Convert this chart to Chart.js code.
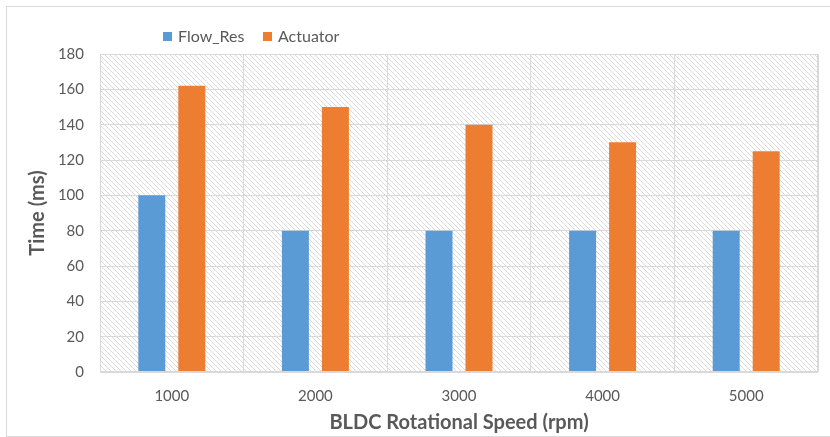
<!DOCTYPE html>
<html>
<head>
<meta charset="utf-8">
<script src="https://cdn.jsdelivr.net/npm/chart.js@4"></script>
<style>
  html, body { margin: 0; padding: 0; background: #fff; }
  #wrap { width: 830px; height: 437px; }
</style>
</head>
<body>
<div id="wrap"><canvas id="chart" width="830" height="437"></canvas></div>
<script>
// data
const speeds = ['1000', '2000', '3000', '4000', '5000'];
const flowRes = [100, 80, 80, 80, 80];
const actuator = [162, 150, 140, 130, 125];
const seriesNames = ['Flow_Res', 'Actuator'];
const seriesColors = ['#5B9BD5', '#ED7D31'];

const fontFamily = 'Lato, "Open Sans", sans-serif';

// diagonal hatch for the plot background
function makeHatch(ctx) {
    const s = 5;
    const c = document.createElement('canvas');
    c.width = s; c.height = s;
    const g = c.getContext('2d');
    g.strokeStyle = '#dadada';
    g.lineWidth = 1;
    g.beginPath();
    g.moveTo(-1, -1); g.lineTo(s + 1, s + 1);
    g.moveTo(-1, s - 1); g.lineTo(1, s + 1);
    g.moveTo(s - 1, -1); g.lineTo(s + 1, 1);
    g.stroke();
    return ctx.createPattern(c, 'repeat');
}

const backdrop = {
    id: 'backdrop',
    beforeDraw(chart) {
        const { ctx, chartArea: a } = chart;
        ctx.save();
        ctx.fillStyle = makeHatch(ctx);
        ctx.fillRect(a.left, a.top, a.right - a.left, a.bottom - a.top);
        ctx.restore();
    },
    afterDraw(chart) {
        const { ctx, chartArea: a } = chart;
        ctx.save();
        // plot frame
        ctx.strokeStyle = '#d9d9d9';
        ctx.lineWidth = 1;
        ctx.strokeRect(a.left + 0.5, a.top + 0.5, a.right - a.left - 1, a.bottom - a.top - 1);
        // outer chart border
        ctx.strokeRect(6.5, 6.5, 830, 430);
        // legend
        ctx.font = '16px ' + fontFamily;
        ctx.textBaseline = 'middle';
        let x = 163;
        chart.data.datasets.forEach(ds => {
            ctx.fillStyle = ds.backgroundColor;
            ctx.fillRect(x, 32, 9, 9);
            ctx.fillStyle = '#595959';
            ctx.fillText(ds.label, x + 15, 36.5);
            x += 100;
        });
        ctx.restore();
    }
};

new Chart(document.getElementById('chart'), {
    type: 'bar',
    data: {
        labels: speeds,
        datasets: [
            { label: seriesNames[0], data: flowRes, backgroundColor: seriesColors[0] },
            { label: seriesNames[1], data: actuator, backgroundColor: seriesColors[1] }
        ]
    },
    options: {
        responsive: false,
        animation: false,
        events: [],
        categoryPercentage: 0.557,
        barPercentage: 0.675,
        layout: { padding: { left: 10, right: 12, top: 54, bottom: 0 } },
        plugins: {
            legend: { display: false },
            tooltip: { enabled: false }
        },
        scales: {
            x: {
                grid: { color: '#d9d9d9', drawTicks: false, offset: true },
                border: { display: false },
                ticks: { color: '#595959', padding: 15, font: { family: fontFamily, size: 15 } },
                title: {
                    display: true,
                    text: 'BLDC Rotational Speed (rpm)',
                    color: '#595959',
                    font: { family: fontFamily, size: 20, weight: 'bold' },
                    padding: { top: 0, bottom: 2 }
                },
                afterFit(scale) { scale.height = 65; }
            },
            y: {
                min: 0,
                max: 180,
                grid: { color: '#d9d9d9', drawTicks: false },
                border: { display: false },
                ticks: { stepSize: 20, color: '#595959', padding: 16, font: { family: fontFamily, size: 15 } },
                title: {
                    display: true,
                    text: 'Time (ms)',
                    color: '#595959',
                    font: { family: fontFamily, size: 20, weight: 'bold' },
                    padding: { top: 16, bottom: 0 }
                },
                afterFit(scale) { scale.width = 90; }
            }
        }
    },
    plugins: [backdrop]
});
</script>
</body>
</html>
